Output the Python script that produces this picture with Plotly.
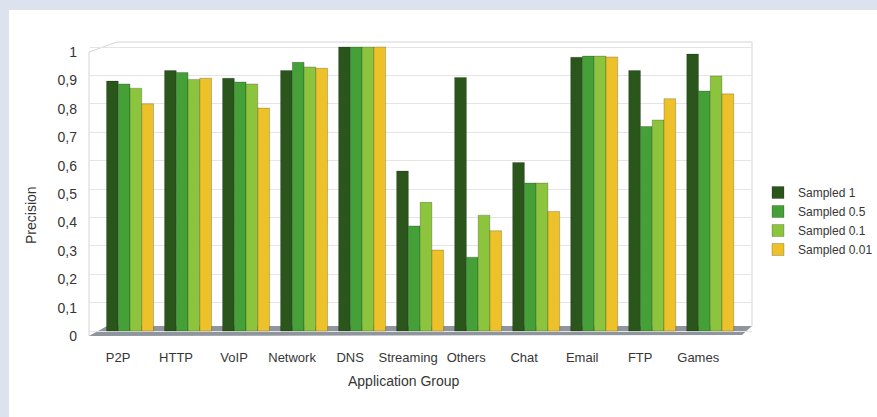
import plotly.graph_objects as go

# ---------------- data ----------------
categories = ["P2P", "HTTP", "VoIP", "Network", "DNS", "Streaming", "Others",
              "Chat", "Email", "FTP", "Games"]
series_names = ["Sampled 1", "Sampled 0.5", "Sampled 0.1", "Sampled 0.01"]
sampled_1 = [0.88, 0.917, 0.89, 0.917, 1.0, 0.563, 0.893, 0.593, 0.964, 0.917, 0.975]
sampled_05 = [0.87, 0.91, 0.877, 0.946, 1.0, 0.37, 0.26, 0.521, 0.968, 0.72, 0.845]
sampled_01 = [0.855, 0.886, 0.87, 0.93, 1.0, 0.453, 0.408, 0.521, 0.968, 0.743, 0.898]
sampled_001 = [0.80, 0.89, 0.785, 0.925, 1.0, 0.285, 0.353, 0.421, 0.965, 0.818, 0.835]
series_values = [sampled_1, sampled_05, sampled_01, sampled_001]
y_tick_vals = [0, 0.1, 0.2, 0.3, 0.4, 0.5, 0.6, 0.7, 0.8, 0.9, 1]
y_tick_text = ["0", "0,1", "0,2", "0,3", "0,4", "0,5", "0,6", "0,7", "0,8", "0,9", "1"]

colors = ["#2a561c", "#44a037", "#8cc43e", "#ecc129"]

# ---------------- layout geometry (pixels) ----------------
FW, FH = 877, 417
L, R, T, B = 90, 125, 38, 79
PW, PH = FW - L - R, FH - T - B


def px(xp):
    return (xp - L) / PW


def py(yp):
    return (T + PH - yp) / PH


TEXT = "#363636"
FONT = "Liberation Sans, Arial, sans-serif"

fig = go.Figure()
for name, vals, col in zip(series_names, series_values, colors):
    fig.add_trace(go.Bar(
        x=categories, y=vals, name=name,
        marker=dict(color=col, line=dict(color="rgba(0,0,0,0.35)", width=0.6)),
    ))

shapes = [
    # white inner panel
    dict(type="rect", xref="paper", yref="paper", layer="below",
         x0=px(9), x1=px(FW + 20), y0=py(FH + 20), y1=py(10),
         fillcolor="white", line=dict(width=0)),
    # wall frame
    dict(type="path", xref="paper", yref="paper", layer="below",
         path=f"M {px(89)},{py(336)} L {px(89)},{py(52)} L {px(117)},{py(42)} "
              f"L {px(752)},{py(42)} L {px(752)},{py(326)}",
         line=dict(color="#d6d3d3", width=1)),
    # floor
    dict(type="path", xref="paper", yref="paper", layer="below",
         path=f"M {px(89)},{py(336)} L {px(742)},{py(335)} L {px(752)},{py(326)} "
              f"L {px(107)},{py(326)} Z",
         fillcolor="#8e959d", line=dict(width=0)),
]

annotations = [
    dict(text="Application Group", xref="paper", yref="paper",
         x=px(404), y=py(381), xanchor="center", yanchor="middle",
         showarrow=False, font=dict(size=14, color=TEXT, family=FONT)),
    dict(text="Precision", xref="paper", yref="paper",
         x=px(31), y=py(215), xanchor="center", yanchor="middle",
         textangle=-90, showarrow=False, font=dict(size=14, color=TEXT, family=FONT)),
]

fig.update_layout(
    width=FW, height=FH,
    margin=dict(l=L, r=R, t=T, b=B, pad=0, autoexpand=False),
    paper_bgcolor="#dde3ee",
    plot_bgcolor="rgba(0,0,0,0)",
    barmode="group", bargap=0.19, bargroupgap=0,
    font=dict(family=FONT, color=TEXT, size=13),
    shapes=shapes, annotations=annotations,
    legend=dict(x=px(758), y=py(178), xanchor="left", yanchor="top",
                bgcolor="rgba(0,0,0,0)", borderwidth=0,
                font=dict(size=12, color=TEXT, family=FONT),
                traceorder="normal", itemwidth=30),
    xaxis=dict(range=[-0.69, 10.72], showgrid=False, showline=False, zeroline=False,
               ticks="", ticklabelshift=-12, ticklabelstandoff=10,
               tickfont=dict(size=13, color=TEXT, family=FONT)),
    yaxis=dict(range=[-0.0246, 1.0317], tickvals=y_tick_vals, ticktext=y_tick_text,
               showgrid=True, gridcolor="#e8e4e4", gridwidth=1, zeroline=False,
               showline=False, ticks="", ticklabelshift=5, ticklabelstandoff=12,
               tickfont=dict(size=14, color=TEXT, family=FONT)),
)

fig.write_html("out.html")
